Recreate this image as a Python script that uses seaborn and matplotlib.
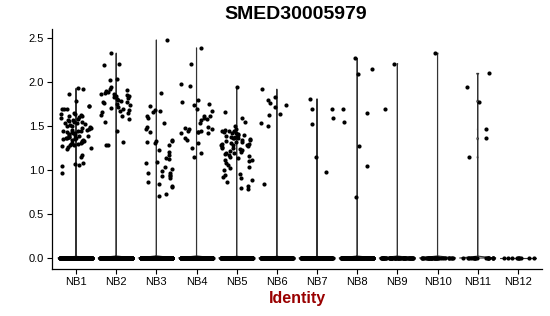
import numpy as np
import pandas as pd
import matplotlib
matplotlib.use("Agg")
import matplotlib.pyplot as plt
import seaborn as sns

groups = ["NB1", "NB2", "NB3", "NB4", "NB5", "NB6", "NB7", "NB8", "NB9", "NB10", "NB11", "NB12"]

nb1 = [1.93, 1.92, 1.86, 1.79, 1.73, 1.73, 1.70, 1.70, 1.69, 1.65, 1.64, 1.64, 1.63, 1.62, 1.61,
       1.60, 1.59, 1.58, 1.57, 1.57, 1.56, 1.55, 1.55, 1.54, 1.53, 1.52, 1.51, 1.50, 1.50, 1.49,
       1.48, 1.48, 1.47, 1.46, 1.46, 1.45, 1.45, 1.44, 1.43, 1.43, 1.42, 1.42, 1.41, 1.40, 1.40,
       1.39, 1.39, 1.38, 1.38, 1.37, 1.37, 1.36, 1.36, 1.35, 1.35, 1.34, 1.34, 1.33, 1.33, 1.32,
       1.31, 1.31, 1.30, 1.30, 1.29, 1.28, 1.27, 1.26, 1.25, 1.24, 1.17, 1.15, 1.08, 1.07, 1.06,
       1.05, 0.97]
nb2 = [2.33, 2.21, 2.19, 2.04, 2.03, 1.94, 1.92, 1.91, 1.90, 1.89, 1.88, 1.87, 1.86, 1.85, 1.84,
       1.84, 1.83, 1.82, 1.81, 1.80, 1.79, 1.78, 1.77, 1.76, 1.75, 1.74, 1.72, 1.71, 1.70, 1.68,
       1.67, 1.66, 1.65, 1.63, 1.62, 1.58, 1.55, 1.45, 1.32, 1.29, 1.28]
nb3 = [2.48, 1.88, 1.73, 1.68, 1.67, 1.66, 1.62, 1.59, 1.54, 1.49, 1.47, 1.43, 1.34, 1.33, 1.33,
       1.32, 1.31, 1.28, 1.23, 1.21, 1.17, 1.14, 1.13, 1.09, 1.08, 1.04, 1.01, 0.99, 0.97, 0.97,
       0.94, 0.93, 0.93, 0.91, 0.86, 0.84, 0.82, 0.81, 0.73, 0.71]
nb4 = [2.39, 2.21, 1.98, 1.96, 1.80, 1.77, 1.75, 1.74, 1.70, 1.67, 1.62, 1.61, 1.59, 1.58, 1.57,
       1.54, 1.49, 1.48, 1.47, 1.47, 1.45, 1.44, 1.43, 1.43, 1.42, 1.42, 1.36, 1.34, 1.31, 1.25,
       1.19, 1.15]
nb5 = [1.94, 1.66, 1.59, 1.55, 1.50, 1.47, 1.46, 1.45, 1.45, 1.44, 1.43, 1.42, 1.42, 1.41, 1.40,
       1.40, 1.39, 1.38, 1.38, 1.37, 1.36, 1.36, 1.35, 1.34, 1.34, 1.33, 1.32, 1.32, 1.31, 1.30,
       1.30, 1.29, 1.28, 1.28, 1.27, 1.26, 1.25, 1.25, 1.24, 1.23, 1.22, 1.21, 1.20, 1.19, 1.18,
       1.17, 1.16, 1.15, 1.14, 1.12, 1.11, 1.10, 1.08, 1.06, 1.04, 1.02, 1.00, 0.96, 0.94, 0.92,
       0.91, 0.89, 0.86, 0.82, 0.80, 0.79]
nb6 = [1.92, 1.83, 1.80, 1.76, 1.74, 1.72, 1.64, 1.63, 1.54, 1.50, 0.84]
nb7 = [1.81, 1.69, 1.69, 1.59, 1.52, 1.15, 0.98]
nb8 = [2.27, 2.15, 2.09, 1.69, 1.65, 1.55, 1.27, 1.05, 0.69]
nb9 = [2.21, 1.69]
nb10 = [2.33]
nb11 = [2.10, 1.94, 1.78, 1.47, 1.36, 1.15]
nb12 = []
nonzero = [nb1, nb2, nb3, nb4, nb5, nb6, nb7, nb8, nb9, nb10, nb11, nb12]
zero_counts = [400, 350, 350, 300, 300, 200, 150, 150, 60, 35, 18, 10]

y_ticks = [0.0, 0.5, 1.0, 1.5, 2.0, 2.5]
title = "SMED30005979"
x_label = "Identity"

rows = []
for g, vals, nz in zip(groups, nonzero, zero_counts):
    for v in list(vals) + [0.0] * nz:
        rows.append((g, v))
df = pd.DataFrame(rows, columns=["ident", "expr"])

sns.set_theme(style="ticks")
plt.rcParams["font.family"] = ["Liberation Sans", "DejaVu Sans"]
plt.rcParams["text.color"] = "black"

fig = plt.figure(figsize=(5.5, 3.16), dpi=100)
ax = fig.add_axes([0.0944, 0.149, 0.891, 0.759])

sns.violinplot(data=df, x="ident", y="expr", order=groups, density_norm="width",
               cut=0, bw_adjust=0.01, gridsize=100, inner=None, fill=False,
               color="#333333", linewidth=0.8, width=0.9, ax=ax)
np.random.seed(3)
sns.stripplot(data=df, x="ident", y="expr", order=groups, jitter=0.4, size=3.0,
              color="black", linewidth=0, ax=ax)

ax.set_xlim(-0.6, len(groups) - 0.4)
ax.set_ylim(-0.124, 2.604)
ax.set_yticks(y_ticks)
ax.set_yticklabels([f"{t:.1f}" for t in y_ticks])
ax.set_ylabel("")
ax.set_xlabel(x_label, fontsize=11.5, fontweight="bold", color="#990000", labelpad=3)
ax.tick_params(axis="both", labelsize=8, colors="black", length=3.5, width=0.8, pad=2)
for s in ["left", "bottom"]:
    ax.spines[s].set_color("black")
    ax.spines[s].set_linewidth(0.9)
sns.despine(ax=ax)

fig.text(0.538, 0.953, title, ha="center", va="center", fontsize=14,
         fontweight="bold", color="black")

fig.savefig("out.png", dpi=100)
